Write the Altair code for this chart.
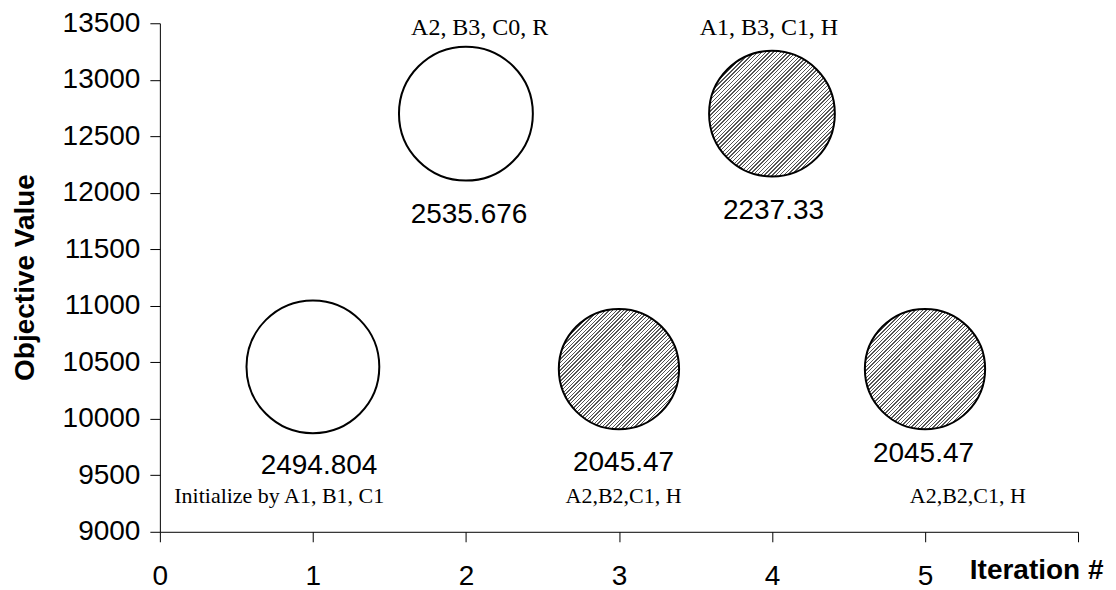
import altair as alt
import pandas as pd

# ---- data ----
iterations = [1, 2, 3, 4, 5]
objective = [10460, 12700, 10440, 12700, 10440]
bubble_size = [2494.804, 2535.676, 2045.47, 2237.33, 2045.47]
hatched = [False, False, True, True, True]

value_labels = ["2494.804", "2535.676", "2045.47", "2237.33", "2045.47"]
value_label_x = [1.04, 2.02, 3.03, 4.01, 4.99]
value_label_y = [9510, 11730, 9540, 11770, 9620]

setting_labels = ["Initialize by A1, B1, C1", "A2, B3, C0, R", "A2,B2,C1, H",
                  "A1, B3, C1, H", "A2,B2,C1, H"]
setting_label_x = [0.78, 2.09, 3.03, 3.98, 5.28]
setting_label_y = [9255, 13400, 9255, 13400, 9255]
setting_label_top = [False, True, False, True, False]

x_ticks = [0, 1, 2, 3, 4, 5, 6]
y_ticks = list(range(9000, 13501, 500))

bubbles = pd.DataFrame({"iter": iterations, "obj": objective,
                        "size": bubble_size, "hatched": hatched})
vals = pd.DataFrame({"x": value_label_x, "y": value_label_y, "t": value_labels})
sets = pd.DataFrame({"x": setting_label_x, "y": setting_label_y, "t": setting_labels,
                     "top": setting_label_top})

# ---- hatch pattern as a striped gradient ----
n = 66
stops = []
for i in range(n):
    a = i / n
    m = (i + 0.38) / n
    b = (i + 1) / n
    stops += [alt.GradientStop(color="#555555", offset=a),
              alt.GradientStop(color="#555555", offset=m),
              alt.GradientStop(color="#ffffff", offset=m),
              alt.GradientStop(color="#ffffff", offset=b)]
hatch = alt.LinearGradient(gradient="linear", stops=stops, x1=0, y1=0, x2=1, y2=1)

xs = alt.Scale(domain=[0, 6], nice=False, zero=False)
ys = alt.Scale(domain=[9000, 13500], nice=False, zero=False)
# Vega symbol size = area of the bounding square (diameter^2)
ss = alt.Scale(domain=[0, 2535.676], range=[0, 17956], zero=True)

x_enc = alt.X("iter:Q", scale=xs, axis=alt.Axis(
    values=x_ticks, title="Iteration #", format="d", labelFlush=False,
    labelExpr="datum.value == 6 ? '' : datum.label",
    tickSize=10, labelPadding=43, labelBaseline="alphabetic",
    titleX=944, titleY=47, titleAlign="right", titleBaseline="alphabetic",
    titleAnchor="end"))
y_enc = alt.Y("obj:Q", scale=ys, axis=alt.Axis(
    values=y_ticks, title="Objective Value", format="d", labelFlush=False,
    tickSize=10, labelPadding=10,
    titleX=-134, titleY=254, titleAngle=270, titleAlign="center",
    titleBaseline="middle"))

open_b = alt.Chart(bubbles).transform_filter("!datum.hatched").mark_circle(
    fill="white", stroke="black", strokeWidth=2, opacity=1
).encode(x=x_enc, y=y_enc, size=alt.Size("size:Q", scale=ss, legend=None))

hatch_b = alt.Chart(bubbles).transform_filter("datum.hatched").mark_circle(
    fill=hatch, stroke="black", strokeWidth=2, opacity=1
).encode(x=alt.X("iter:Q", scale=xs), y=alt.Y("obj:Q", scale=ys),
         size=alt.Size("size:Q", scale=ss, legend=None))

val_t = alt.Chart(vals).mark_text(
    font="Liberation Sans", fontSize=28, color="black", align="center",
    baseline="alphabetic"
).encode(x=alt.X("x:Q", scale=xs), y=alt.Y("y:Q", scale=ys), text="t:N")

set_bottom = alt.Chart(sets).transform_filter("!datum.top").mark_text(
    font="Liberation Serif", fontSize=22, color="black", align="center",
    baseline="alphabetic"
).encode(x=alt.X("x:Q", scale=xs), y=alt.Y("y:Q", scale=ys), text="t:N")

set_top = alt.Chart(sets).transform_filter("datum.top").mark_text(
    font="Liberation Serif", fontSize=24, color="black", align="center",
    baseline="alphabetic"
).encode(x=alt.X("x:Q", scale=xs), y=alt.Y("y:Q", scale=ys), text="t:N")

chart = alt.layer(open_b, hatch_b, val_t, set_bottom, set_top).properties(
    width=919, height=509,
    padding={"left": 152, "top": 15, "right": 30, "bottom": 58},
    autosize=alt.AutoSizeParams(type="none"),
).configure_view(stroke=None).configure_axis(
    grid=False, domainColor="black", tickColor="black", domainWidth=1, tickWidth=1,
    labelFont="Liberation Sans", labelFontSize=28, labelColor="black",
    titleFont="Liberation Sans", titleFontSize=28, titleFontWeight="bold",
    titleColor="black"
)

chart.save("out.html", embed_options={"renderer": "svg", "actions": False})
